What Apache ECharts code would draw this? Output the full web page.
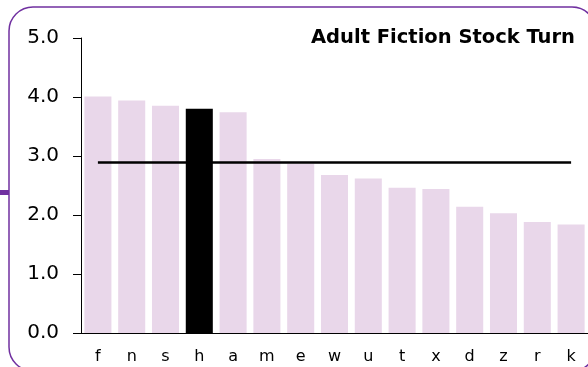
<!DOCTYPE html>
<html>
<head>
<meta charset="utf-8">
<script src="https://cdn.jsdelivr.net/npm/echarts@6/dist/echarts.min.js"></script>
<style>
  html, body { margin: 0; padding: 0; background: #fff; }
  #chart { width: 588px; height: 367px; }
</style>
</head>
<body>
<div id="chart"></div>
<script>
// Branch codes, sorted by stock turn
const branches = ['f', 'n', 's', 'h', 'a', 'm', 'e', 'w', 'u', 't', 'x', 'd', 'z', 'r', 'k'];
const stockTurn = [4.01, 3.94, 3.85, 3.80, 3.74, 2.95, 2.87, 2.68, 2.62, 2.46, 2.44, 2.14, 2.03, 1.88, 1.84];
const highlighted = 'h';
const systemAverage = 2.89;
const yTicks = [0, 1, 2, 3, 4, 5];

const FONT = 'DejaVu Sans, Verdana, sans-serif';
const PURPLE = '#7030A0';

const chart = echarts.init(document.getElementById('chart'), null, { renderer: 'canvas' });

chart.setOption({
  animation: false,
  backgroundColor: '#fff',
  grid: { left: 81, right: 0, top: 38, bottom: 34, containLabel: false },
  xAxis: {
    type: 'category',
    data: branches,
    axisLine: { show: true, lineStyle: { color: '#000', width: 1 } },
    axisTick: { show: false },
    axisLabel: { color: '#000', fontFamily: FONT, fontSize: 16, margin: 16 }
  },
  yAxis: {
    type: 'value',
    min: yTicks[0],
    max: yTicks[yTicks.length - 1],
    interval: 1,
    axisLine: { show: true, lineStyle: { color: '#000', width: 1 } },
    axisTick: { show: true, length: 8, lineStyle: { color: '#000' } },
    splitLine: { show: false },
    axisLabel: {
      color: '#000', fontFamily: FONT, fontSize: 20, margin: 22,
      formatter: v => v.toFixed(1)
    }
  },
  series: [
    {
      type: 'bar',
      barCategoryGap: '20%',
      data: stockTurn.map((v, i) => ({
        value: v,
        itemStyle: { color: branches[i] === highlighted ? '#000' : '#E9D7EA' }
      }))
    },
    {
      type: 'line',
      data: branches.map(() => systemAverage),
      symbol: 'none',
      lineStyle: { color: '#000', width: 2.5 },
      z: 3
    }
  ],
  graphic: [
    {
      type: 'rect',
      shape: { x: 9, y: 7, width: 587, height: 364, r: 24 },
      style: { fill: 'none', stroke: PURPLE, lineWidth: 1.5 },
      z: 100
    },
    {
      type: 'rect',
      shape: { x: 0, y: 190, width: 9, height: 5 },
      style: { fill: PURPLE },
      z: 100
    },
    {
      type: 'text',
      right: 13,
      top: 28,
      style: {
        text: 'Adult Fiction Stock Turn',
        fill: '#000',
        font: 'bold 19.5px ' + FONT
      },
      z: 100
    }
  ]
});
</script>
</body>
</html>
